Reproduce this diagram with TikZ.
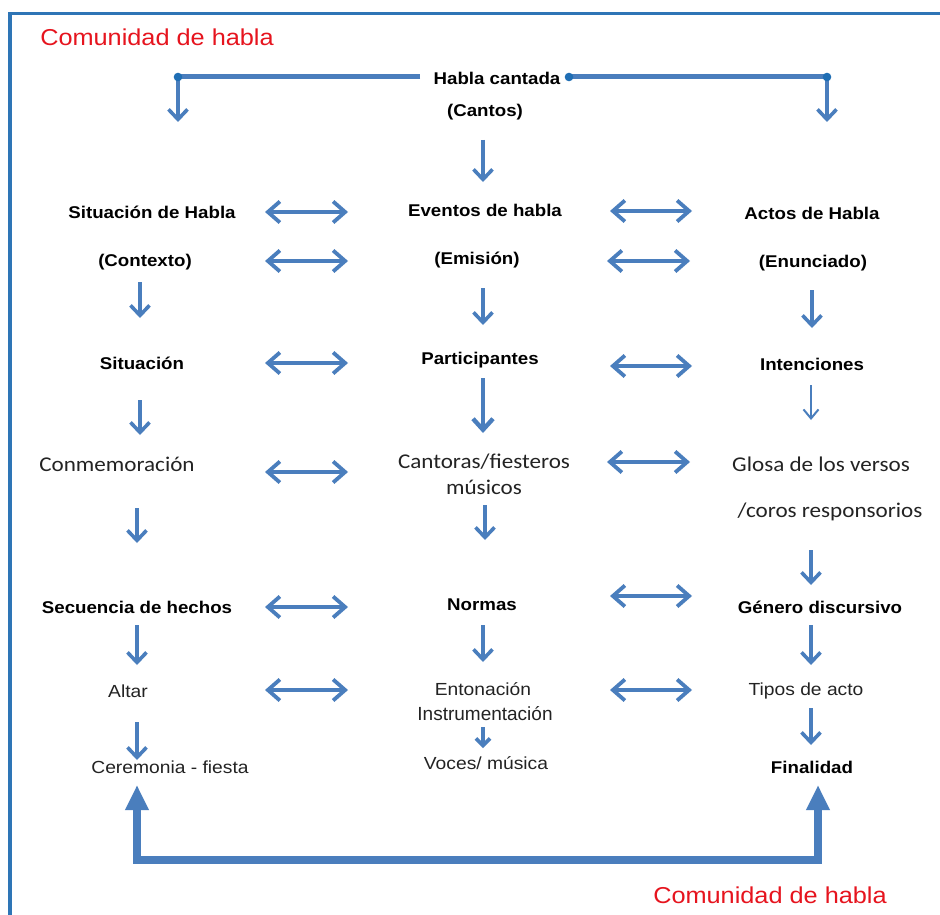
\documentclass[tikz,border=0pt]{standalone}
\usepackage{fontspec}
\setmainfont{Liberation Sans}
\newfontfamily\arialS[FakeStretch=1.1]{Liberation Sans}
\newfontfamily\calS[FakeStretch=1.1]{Carlito}
\usetikzlibrary{arrows.meta,calc}
\definecolor{arrowblue}{RGB}{74,126,189}
\definecolor{frameblue}{RGB}{46,117,182}
\definecolor{dotblue}{RGB}{31,110,180}
\definecolor{titlered}{RGB}{230,20,30}
\definecolor{txtgray}{RGB}{35,35,35}
\tikzset{
  lbl/.style={inner sep=0pt, anchor=center},
  bold/.style={lbl, font=\arialS\bfseries\fontsize{17}{20}\selectfont, text=black},
  reg/.style={lbl, font=\arialS\fontsize{17.5}{20}\selectfont, text=txtgray},
  cal/.style={lbl, font=\calS\fontsize{21}{24}\selectfont, text=txtgray},
  redtitle/.style={lbl, font=\arialS\fontsize{23}{26}\selectfont, text=titlered},
  dn/.style={draw=arrowblue, line width=3.6pt, -{Straight Barb[length=10pt,width=19pt]}},
  dnthick/.style={draw=arrowblue, line width=4.4pt, -{Straight Barb[length=11pt,width=20pt]}},
  dnthin/.style={draw=arrowblue, line width=2pt, -{Straight Barb[length=9pt,width=15pt]}},
  dnsmall/.style={draw=arrowblue, line width=3.6pt, -{Straight Barb[length=7pt,width=14pt]}},
  dbl/.style={draw=arrowblue, line width=3.8pt, {Straight Barb[length=12pt,width=21pt]}-{Straight Barb[length=12pt,width=21pt]}},
  topln/.style={draw=arrowblue, line width=5pt},
  loopln/.style={draw=arrowblue, line width=7.5pt, line join=miter, {Triangle[length=25pt,width=22pt]}-{Triangle[length=25pt,width=22pt]}},
  dot/.style={fill=dotblue},
}
\begin{document}
\begin{tikzpicture}[x=1pt,y=-1pt]
\useasboundingbox (0,0) rectangle (940,915);
\clip (0,0) rectangle (940,915);
\fill[white] (0,0) rectangle (940,915);
% frame
\draw[frameblue, line width=3.5pt] (10,960) -- (10,13.5) -- (980,13.5);
% titles
\node[redtitle] (red1) at (157,37) {Comunidad de habla};
\node[redtitle] (red2) at (770,895) {Comunidad de habla};
% nodes
\node[bold] (hc) at (497,78) {Habla cantada};
\node[bold] (cantos) at (485,112) {(Cantos)};
\node[bold] (sit1) at (152,212) {Situación de Habla};
\node[bold] (ev) at (485,210) {Eventos de habla};
\node[bold] (actos) at (812,213) {Actos de Habla};
\node[bold] (ctx) at (145,262) {(Contexto)};
\node[bold] (em) at (477,260) {(Emisión)};
\node[bold] (enun) at (813,263) {(Enunciado)};
\node[bold] (sit) at (142,363) {Situación};
\node[bold] (part) at (480,360) {Participantes};
\node[bold] (inten) at (812,364) {Intenciones};
\node[cal] (conm) at (117,464) {Conmemoración};
\node[cal] (cant) at (484,462) {Cantoras/fiesteros};
\node[cal] (mus) at (484,487) {músicos};
\node[cal] (glosa) at (821,464) {Glosa de los versos};
\node[cal] (coros) at (830,512) {/coros responsorios};
\node[bold] (sec) at (137,607) {Secuencia de hechos};
\node[bold] (norm) at (482,605) {Normas};
\node[bold] (gen) at (820,607) {Género discursivo};
\node[reg] (altar) at (128,691) {Altar};
\node[reg] (ento) at (483,689) {Entonación};
\node[lbl, font=\fontsize{19}{22}\selectfont, text=txtgray] (instr) at (485,714) {Instrumentación};
\node[reg] (tipos) at (806,691) {Tipos de acto};
\node[reg] (cer) at (170,767) {Ceremonia - fiesta};
\node[reg] (voces) at (486,763) {Voces/ música};
\node[bold] (fin) at (812,767) {Finalidad};
% top connector
\coordinate (tl) at (178,77);
\coordinate (tr) at (827,77);
\coordinate (tlE) at (178,122);
\coordinate (trE) at (827,122);
\draw[topln] ($(hc)+(-77,-1)$) -- (tl);
\draw[topln] ($(hc)+(72,-1)$) -- (tr);
\draw[dn] (tl) -- (tlE);
\draw[dn] (tr) -- (trE);
\fill[dot] (tl) circle (4.3);
\fill[dot] (tr) circle (4.3);
\fill[dot] ($(hc)+(72,-1)$) circle (4.3);
% vertical arrows
\draw[dn] ($(cantos)+(-2,28)$) -- ($(ev)+(-2,-28)$);
\draw[dn] ($(ctx)+(-5,20)$) -- ($(sit)+(-2,-45)$);
\draw[dn] ($(em)+(6,28)$) -- ($(part)+(3,-35)$);
\draw[dn] ($(enun)+(-1,27)$) -- ($(inten)+(0,-36)$);
\draw[dn] ($(sit)+(-2,37)$) -- ($(conm)+(23,-29)$);
\draw[dnthick] ($(part)+(3,18)$) -- ($(cant)+(-1,-29)$);
\draw[dnthin] ($(inten)+(-1,21)$) -- ($(glosa)+(-10,-44)$);
\draw[dn] ($(mus)+(1,18)$) -- ($(norm)+(3,-65)$);
\draw[dn] ($(conm)+(20,44)$) -- ($(sec)+(0,-64)$);
\draw[dn] ($(coros)+(-19,38)$) -- ($(gen)+(-9,-22)$);
\draw[dn] ($(sec)+(0,18)$) -- ($(altar)+(9,-26)$);
\draw[dn] ($(norm)+(1,20)$) -- ($(ento)+(0,-27)$);
\draw[dn] ($(gen)+(-9,18)$) -- ($(tipos)+(5,-26)$);
\draw[dn] ($(altar)+(9,31)$) -- ($(cer)+(-33,-7)$);
\draw[dnsmall] ($(instr)+(-2,13)$) -- ($(voces)+(-3,-15)$);
\draw[dn] ($(tipos)+(5,17)$) -- ($(fin)+(-1,-22)$);
% horizontal double arrows
\draw[dbl] ($(sit1)+(113,0)$) -- ($(ev)+(-137,2)$);
\draw[dbl] ($(ev)+(125,1)$) -- ($(actos)+(-120,-2)$);
\draw[dbl] ($(ctx)+(120,-1)$) -- ($(em)+(-129,1)$);
\draw[dbl] ($(em)+(130,1)$) -- ($(enun)+(-123,-2)$);
\draw[dbl] ($(sit)+(123,0)$) -- ($(part)+(-132,3)$);
\draw[dbl] ($(part)+(130,6)$) -- ($(inten)+(-120,2)$);
\draw[dbl] ($(conm)+(148,8)$) -- ($(cant)+(-136,10)$);
\draw[dbl] ($(cant)+(123,0)$) -- ($(glosa)+(-131,-2)$);
\draw[dbl] ($(sec)+(128,0)$) -- ($(norm)+(-134,2)$);
\draw[dbl] ($(norm)+(128,-9)$) -- ($(gen)+(-128,-11)$);
\draw[dbl] ($(altar)+(137,-1)$) -- ($(ento)+(-135,1)$);
\draw[dbl] ($(ento)+(127,1)$) -- ($(tipos)+(-114,-1)$);
% bottom loop
\coordinate (bl) at (137,860);
\coordinate (br) at (818,860);
\draw[loopln] ($(cer)+(-33,18)$) -- (bl) -- (br) -- ($(fin)+(6,18)$);
\end{tikzpicture}
\end{document}
